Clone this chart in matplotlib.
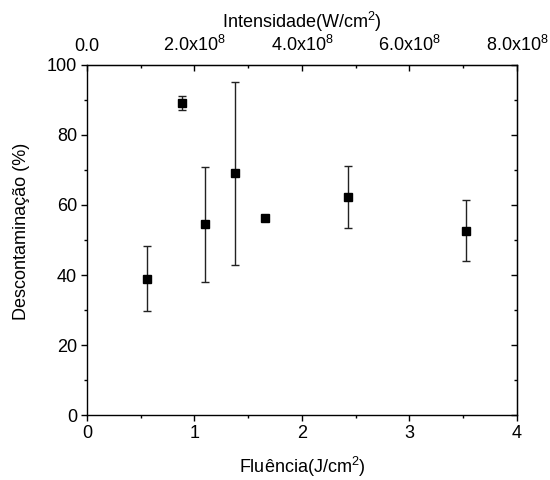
import matplotlib.pyplot as plt
from matplotlib.ticker import MultipleLocator, FixedLocator

plt.rcParams['font.family'] = ['Liberation Sans', 'DejaVu Sans']
plt.rcParams['mathtext.fontset'] = 'custom'
plt.rcParams['mathtext.rm'] = 'Liberation Sans'
plt.rcParams['mathtext.it'] = 'Liberation Sans'

# Fluence (J/cm2), decontamination (%) and error bars
fluencia = [0.555, 0.883, 1.10, 1.378, 1.654, 2.426, 3.525]
descont = [38.9, 89.1, 54.5, 69.1, 56.3, 62.2, 52.7]
erro = [9.3, 2.0, 16.4, 26.1, 0.0, 8.8, 8.7]

top_ticks = [0, 2e8, 4e8, 6e8, 8e8]
top_labels = ['0.0', '2.0x10$^8$', '4.0x10$^8$', '6.0x10$^8$', '8.0x10$^8$']

fig = plt.figure(figsize=(5.5, 4.8), dpi=100)
ax = fig.add_axes([0.158, 0.135, 0.782, 0.73])

ax.errorbar(fluencia, descont, yerr=erro, fmt='s', color='black', ms=6,
            ecolor='#222222', elinewidth=1, capsize=3, capthick=1)

ax.set_xlim(0, 4)
ax.set_ylim(0, 100)
ax.xaxis.set_major_locator(MultipleLocator(1))
ax.xaxis.set_minor_locator(MultipleLocator(0.5))
ax.yaxis.set_major_locator(MultipleLocator(20))
ax.yaxis.set_minor_locator(MultipleLocator(10))
ax.tick_params(which='major', direction='out', length=4, width=1, labelsize=13, pad=3)
ax.tick_params(which='minor', direction='out', length=2.5, width=1)
for s in ax.spines.values():
    s.set_linewidth(1)

ax.set_xlabel('Fluência(J/cm$^2$)', fontsize=13, labelpad=9)
ax.set_ylabel('Descontaminação (%)', fontsize=13)
ax.yaxis.set_label_coords(-0.132, 0.526)

# top axis: intensity
top = ax.secondary_xaxis('top', functions=(lambda f: f * 2e8, lambda i: i / 2e8))
top.xaxis.set_major_locator(FixedLocator(top_ticks))
top.set_xticklabels(top_labels)
top.xaxis.set_minor_locator(MultipleLocator(1e8))
top.tick_params(which='major', direction='in', length=4, width=1, labelsize=13, pad=7)
top.tick_params(which='minor', direction='in', length=2.5, width=1)
top.set_xlabel('Intensidade(W/cm$^2$)', fontsize=13, labelpad=5)

# right axis mirror ticks
right = ax.secondary_yaxis('right')
right.yaxis.set_major_locator(MultipleLocator(20))
right.yaxis.set_minor_locator(MultipleLocator(10))
right.tick_params(which='major', direction='in', length=4, width=1, labelright=False)
right.tick_params(which='minor', direction='in', length=2.5, width=1)

fig.savefig('out.png', dpi=100)
